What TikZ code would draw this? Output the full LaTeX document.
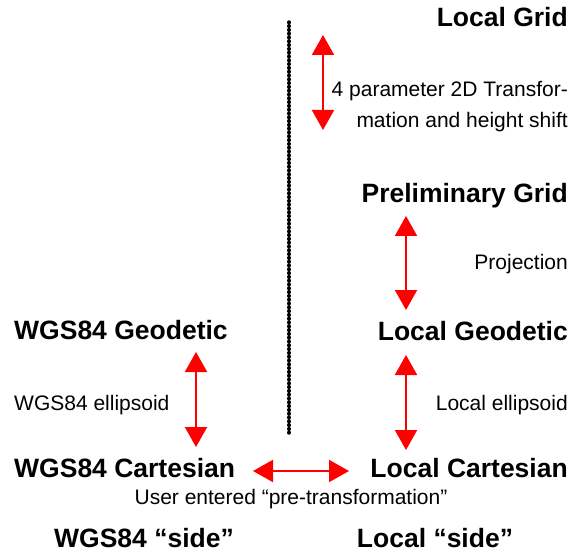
\documentclass[tikz,border=0pt]{standalone}
\usepackage{fontspec}
\setmainfont{Liberation Sans}
\usetikzlibrary{arrows.meta}
\begin{document}
\begin{tikzpicture}[x=1pt,y=-1pt,
  title/.style={inner sep=0pt,font=\fontsize{26.5}{30}\selectfont\bfseries},
  note/.style={inner sep=0pt,font=\fontsize{21}{24}\selectfont},
  arr/.style={draw=red,line width=2pt,{Triangle[width=22pt,length=20pt,fill=red]}-{Triangle[width=22pt,length=20pt,fill=red]}},
  sep/.style={line width=3.4pt,line cap=round,dash pattern=on 0.6pt off 3.2pt}]
\useasboundingbox (0,0) rectangle (578,553);
% titles
\node[title,anchor=base east] (lgrid) at (568,27) {Local Grid};
\node[title,anchor=base east] (pgrid) at (568,203) {Preliminary Grid};
\node[title,anchor=base east] (lgeo) at (568,340) {Local Geodetic};
\node[title,anchor=base east] (lcart) at (568,477) {Local Cartesian};
\node[title,anchor=base west] (wgeo) at (14,339) {WGS84 Geodetic};
\node[title,anchor=base west] (wcart) at (14,477) {WGS84 Cartesian};
\node[title,anchor=base] (wside) at (144,547) {WGS84 “side”};
\node[title,anchor=base] (lside) at (435,547) {Local “side”};
% notes
\node[note,anchor=base east] (t1) at (568,97) {4 parameter 2D Transfor-};
\node[note,anchor=base east] (t2) at (568,128) {mation and height shift};
\node[note,anchor=base east] (proj) at (568,270) {Projection};
\node[note,anchor=base east] (lell) at (568,410) {Local ellipsoid};
\node[note,anchor=base west] (well) at (14,410) {WGS84 ellipsoid};
\node[note,anchor=base] (user) at (291,504) {User entered “pre-transformation”};
% connector ends
\coordinate (a1) at (323,35);  \coordinate (a2) at (323,130);
\coordinate (b1) at (406,216); \coordinate (b2) at (406,310);
\coordinate (c1) at (406,355); \coordinate (c2) at (406,450);
\coordinate (d1) at (196,352); \coordinate (d2) at (196,447);
\coordinate (e1) at (253,471); \coordinate (e2) at (349,471);
\coordinate (s1) at (289,22);  \coordinate (s2) at (289,436);
\draw[arr] (a1) -- (a2);
\draw[arr] (b1) -- (b2);
\draw[arr] (c1) -- (c2);
\draw[arr] (d1) -- (d2);
\draw[arr] (e1) -- (e2);
\draw[sep] (s1) -- (s2);
\end{tikzpicture}
\end{document}
